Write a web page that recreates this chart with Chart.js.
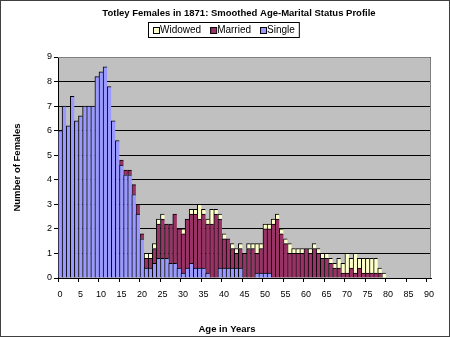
<!DOCTYPE html>
<html>
<head>
<meta charset="utf-8">
<script src="https://cdn.jsdelivr.net/npm/chart.js@4.4.1/dist/chart.umd.min.js"></script>
<style>
  html, body { margin: 0; padding: 0; background: #fff; }
  #wrap { width: 450px; height: 337px; position: relative; }
</style>
</head>
<body>
<div id="wrap"><canvas id="ageChart"></canvas></div>
<script>
const chartTitle = "Totley Females in 1871: Smoothed Age-Marital Status Profile";
const xTitle = "Age in Years";
const yTitle = "Number of Females";

const ages = [
  "0", "1", "2", "3", "4", "5", "6", "7", "8", "9",
  "10", "11", "12", "13", "14", "15", "16", "17", "18", "19",
  "20", "21", "22", "23", "24", "25", "26", "27", "28", "29",
  "30", "31", "32", "33", "34", "35", "36", "37", "38", "39",
  "40", "41", "42", "43", "44", "45", "46", "47", "48", "49",
  "50", "51", "52", "53", "54", "55", "56", "57", "58", "59",
  "60", "61", "62", "63", "64", "65", "66", "67", "68", "69",
  "70", "71", "72", "73", "74", "75", "76", "77", "78", "79",
  "80", "81", "82", "83", "84", "85", "86", "87", "88", "89", "90"
];

// smoothed counts by single year of age
const single = [
  6.0, 7.0, 6.2, 7.4, 6.4, 6.6, 7.0, 7.0, 7.0, 8.2,
  8.4, 8.6, 7.8, 6.4, 5.6, 4.6, 4.2, 4.2, 3.4, 2.6,
  1.6, 0.4, 0.4, 0.6, 0.8, 0.8, 0.8, 0.6, 0.6, 0.4,
  0.2, 0.4, 0.6, 0.4, 0.4, 0.4, 0.2, 0, 0, 0.4,
  0.4, 0.4, 0.4, 0.4, 0.4, 0, 0, 0, 0.2, 0.2,
  0.2, 0.2, 0, 0, 0, 0, 0, 0, 0, 0,
  0, 0, 0, 0, 0, 0, 0, 0, 0, 0,
  0, 0, 0, 0, 0, 0, 0, 0, 0, 0,
  0, 0, 0, 0, 0, 0, 0, 0, 0, 0, 0
];
const married = [
  0, 0, 0, 0, 0, 0, 0, 0, 0, 0,
  0, 0, 0, 0, 0, 0.2, 0.2, 0.2, 0.4, 0.4,
  0.2, 0.4, 0.4, 0.6, 1.4, 1.6, 1.4, 1.6, 2.0, 1.6,
  1.6, 2.0, 2.0, 2.2, 2.0, 2.2, 2.0, 2.2, 2.6, 2.0,
  1.2, 1.2, 0.8, 0.6, 0.8, 1.0, 1.2, 1.2, 0.8, 1.0,
  1.8, 1.8, 2.2, 2.4, 1.8, 1.4, 1.0, 1.0, 1.0, 1.0,
  1.2, 1.0, 1.2, 1.0, 0.8, 0.8, 0.6, 0.4, 0.4, 0.2,
  0.2, 0.4, 0.2, 0.4, 0.2, 0.2, 0.2, 0.2, 0.2, 0,
  0, 0, 0, 0, 0, 0, 0, 0, 0, 0, 0
];
const widowed = [
  0, 0, 0, 0, 0, 0, 0, 0, 0, 0,
  0, 0, 0, 0, 0, 0, 0, 0, 0, 0,
  0, 0.2, 0.2, 0.2, 0.2, 0.2, 0, 0, 0, 0,
  0.2, 0, 0.2, 0.2, 0.6, 0.2, 0.2, 0.6, 0.2, 0.2,
  0.2, 0, 0.2, 0.2, 0.2, 0, 0.2, 0.2, 0.4, 0.2,
  0.2, 0.2, 0.2, 0.2, 0.2, 0.2, 0.4, 0.2, 0.2, 0.2,
  0, 0.2, 0.2, 0.2, 0.2, 0.2, 0.2, 0.2, 0.4, 0.4,
  0.8, 0.4, 0.8, 0.4, 0.6, 0.6, 0.6, 0.6, 0.2, 0.2,
  0, 0, 0, 0, 0, 0, 0, 0, 0, 0, 0
];
const yTicks = [0, 1, 2, 3, 4, 5, 6, 7, 8, 9];

const FONT = "Arial, 'Liberation Sans', sans-serif";

// background, plot frame, titles and boxed legend like the Excel original
const decor = {
  id: "decor",
  beforeDraw(chart) {
    const { ctx, chartArea: a } = chart;
    ctx.save();
    ctx.fillStyle = "#fff";
    ctx.fillRect(0, 0, chart.width, chart.height);
    ctx.fillStyle = "#c0c0c0";
    ctx.fillRect(a.left, a.top, a.right - a.left, a.bottom - a.top);
    ctx.restore();
  },
  afterDraw(chart) {
    const { ctx, chartArea: a } = chart;
    ctx.save();
    ctx.lineWidth = 1;
    ctx.strokeStyle = "#808080";
    ctx.beginPath();
    ctx.moveTo(a.left, a.top + 0.5);
    ctx.lineTo(a.right - 0.5, a.top + 0.5);
    ctx.lineTo(a.right - 0.5, a.bottom);
    ctx.stroke();

    ctx.strokeStyle = "#404040";
    ctx.strokeRect(0.5, 0.5, chart.width - 1, chart.height - 1);

    ctx.fillStyle = "#000";
    ctx.font = "bold 9.5px " + FONT;
    ctx.textAlign = "center";
    ctx.textBaseline = "alphabetic";
    ctx.fillText(chartTitle, 239, 16);
    ctx.fillText(xTitle, 227, 331.5);

    // legend: top series first
    const items = chart.data.datasets.slice().reverse();
    ctx.font = "10px " + FONT;
    ctx.textAlign = "left";
    ctx.textBaseline = "middle";
    const widths = items.map((d) => ctx.measureText(d.label).width);
    let total = 0;
    widths.forEach((w, i) => { total += 7 + w + (i < widths.length - 1 ? 9 : 0); });
    const boxL = 148, boxT = 22.5;
    ctx.fillStyle = "#fff";
    ctx.fillRect(boxL + 0.5, boxT, total + 9, 15);
    ctx.strokeStyle = "#000";
    ctx.strokeRect(boxL + 0.5, boxT, total + 9, 15);
    let x = boxL + 5;
    items.forEach((d, i) => {
      ctx.fillStyle = d.backgroundColor;
      ctx.fillRect(x, 27, 6, 6);
      ctx.strokeStyle = "#000";
      ctx.strokeRect(x + 0.5, 27.5, 6, 6);
      ctx.fillStyle = "#000";
      ctx.fillText(d.label, x + 7, 30.5);
      x += 7 + widths[i] + 9;
    });
    ctx.restore();
  }
};

const ctx = document.getElementById("ageChart").getContext("2d");

new Chart(ctx, {
  type: "bar",
  data: {
    labels: ages,
    datasets: [
      { label: "Single", data: single, backgroundColor: "#9999ff" },
      { label: "Married", data: married, backgroundColor: "#993366" },
      { label: "Widowed", data: widowed, backgroundColor: "#ffffcc" },
    ].map((d) => ({
      ...d,
      borderColor: "#000",
      borderWidth: { top: 1, left: 1, right: 0, bottom: 0 },
      borderSkipped: false,
      barPercentage: 1,
      categoryPercentage: 1,
    })),
  },
  options: {
    responsive: true,
    maintainAspectRatio: false,
    animation: false,
    layout: { padding: { top: 57, right: 19, bottom: 0, left: 0 } },
    plugins: {
      legend: { display: false },
      title: { display: false },
      tooltip: { enabled: false },
    },
    scales: {
      x: {
        stacked: true,
        afterFit: (scale) => { scale.height = 59; },
        grid: {
          offset: true,
          drawOnChartArea: false,
          tickLength: 4,
          color: (c) => (c.index % 5 === 0 ? "#000" : "rgba(0,0,0,0)"),
        },
        border: { color: "#000", width: 1 },
        ticks: {
          autoSkip: false,
          maxRotation: 0,
          padding: 7,
          color: "#000",
          font: { family: FONT, size: 9 },
          callback: (v, i) => (i % 5 === 0 ? ages[i] : ""),
        },
      },
      y: {
        stacked: true,
        min: yTicks[0],
        max: yTicks[yTicks.length - 1],
        afterFit: (scale) => { scale.width = 58; },
        afterBuildTicks: (scale) => { scale.ticks = yTicks.map((v) => ({ value: v })); },
        grid: { color: "#000", tickLength: 4 },
        border: { color: "#000", width: 1 },
        ticks: { padding: 2, color: "#000", font: { family: FONT, size: 9 } },
        title: {
          display: true,
          text: yTitle,
          color: "#000",
          font: { family: FONT, size: 9.5, weight: "bold" },
          padding: { top: 12, bottom: 0 },
        },
      },
    },
  },
  plugins: [decor],
});
</script>
</body>
</html>
